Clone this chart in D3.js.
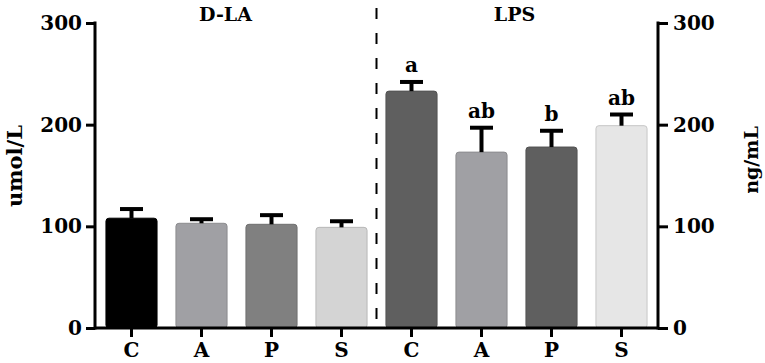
<!DOCTYPE html>
<html>
<head>
<meta charset="utf-8">
<script src="https://cdn.jsdelivr.net/npm/d3@7"></script>
<style>
  body { margin: 0; background: #fff; }
  text { font-family: "DejaVu Serif", serif; font-weight: bold; fill: #000; }
</style>
</head>
<body>
<svg id="chart" width="765" height="363"></svg>
<script>
// data
var groups = ["D-LA", "LPS"];
var cats = ["C", "A", "P", "S"];
var dlaMean = [108, 103, 102, 99];
var dlaErr = [9, 4, 9, 6];
var lpsMean = [233, 173, 178, 199];
var lpsErr = [9, 24, 16, 11];
var lpsLetters = ["a", "ab", "b", "ab"];
var yTicks = [0, 100, 200, 300];
var dlaColors = ["#000000", "#a0a0a4", "#808080", "#d4d4d4"];
var lpsColors = ["#5f5f5f", "#a0a0a4", "#5f5f5f", "#e6e6e6"];

var svg = d3.select("#chart");
var plotL = 95, plotR = 658, plotT = 23, plotB = 328;

// one row per bar
var rows = [];
cats.forEach(function(c, i) {
  rows.push({key: "d" + i, cat: c, v: dlaMean[i], e: dlaErr[i], col: dlaColors[i], lab: ""});
});
cats.forEach(function(c, i) {
  rows.push({key: "l" + i, cat: c, v: lpsMean[i], e: lpsErr[i], col: lpsColors[i], lab: lpsLetters[i]});
});

var x = d3.scaleBand().domain(rows.map(function(d) { return d.key; }))
  .range([96.5, 656.5]).paddingInner(0.27).paddingOuter(0.135);
var y = d3.scaleLinear().domain([0, 300]).range([plotB, plotT]);

//bars
svg.selectAll(".bar").data(rows).enter()
  .append("rect")
  .attr("class", "bar")
  .attr("x", function(d) { return x(d.key); })
  .attr("y", function(d) { return y(d.v); })
  .attr("width", x.bandwidth())
  .attr("height", function(d) { return plotB - y(d.v); })
  .attr("rx", 3)
  .attr("fill", function(d) { return d.col; })
  .attr("stroke", function(d) { return d3.color(d.col).darker(0.4); })
  .attr("stroke-width", 1);

//error bars (upper only)
var cx = function(d) { return x(d.key) + x.bandwidth() / 2; };
svg.selectAll(".stem").data(rows).enter()
  .append("line")
  .attr("x1", cx).attr("x2", cx)
  .attr("y1", function(d) { return y(d.v); })
  .attr("y2", function(d) { return y(d.v + d.e); })
  .attr("stroke", "#000").attr("stroke-width", 4);
svg.selectAll(".cap").data(rows).enter()
  .append("line")
  .attr("x1", function(d) { return cx(d) - 11.5; })
  .attr("x2", function(d) { return cx(d) + 11.5; })
  .attr("y1", function(d) { return y(d.v + d.e); })
  .attr("y2", function(d) { return y(d.v + d.e); })
  .attr("stroke", "#000").attr("stroke-width", 4);

//significance letters
svg.selectAll(".sig").data(rows).enter()
  .append("text")
  .attr("x", cx)
  .attr("y", function(d) { return y(d.v + d.e) - 10; })
  .attr("text-anchor", "middle")
  .attr("font-size", 20)
  .text(function(d) { return d.lab; });

//axes
var yl = svg.append("g").attr("transform", "translate(" + plotL + ",0)")
  .call(d3.axisLeft(y).tickValues(yTicks).tickSize(9).tickPadding(4));
var yr = svg.append("g").attr("transform", "translate(" + plotR + ",0)")
  .call(d3.axisRight(y).tickValues(yTicks).tickSize(10).tickPadding(5));
var xa = svg.append("g").attr("transform", "translate(0," + plotB + ")")
  .call(d3.axisBottom(x).tickSize(9).tickPadding(6)
    .tickFormat(function(k) { return rows.find(function(r) { return r.key == k; }).cat; }));

[yl, yr, xa].forEach(function(g) {
  g.select(".domain").remove();
  g.selectAll(".tick line").attr("stroke-width", 3);
  g.selectAll("text").attr("font-family", "DejaVu Serif").attr("font-weight", "bold");
});
yl.selectAll("text").attr("font-size", 20);
yr.selectAll("text").attr("font-size", 20);
xa.selectAll("text").attr("font-size", 20);

svg.append("line").attr("x1", plotL).attr("x2", plotL).attr("y1", plotT - 1.5).attr("y2", plotB + 1.5)
  .attr("stroke", "#000").attr("stroke-width", 3);
svg.append("line").attr("x1", plotR).attr("x2", plotR).attr("y1", plotT - 1.5).attr("y2", plotB + 1.5)
  .attr("stroke", "#000").attr("stroke-width", 3);
svg.append("line").attr("x1", plotL).attr("x2", plotR).attr("y1", plotB).attr("y2", plotB)
  .attr("stroke", "#000").attr("stroke-width", 3);

//dashed divider
var divX = x("l0") - x.step() * x.paddingInner() / 2;
svg.append("line")
  .attr("x1", divX).attr("x2", divX).attr("y1", 8).attr("y2", plotB)
  .attr("stroke", "#000").attr("stroke-width", 2).attr("stroke-dasharray", "11,14");

//group titles
svg.append("text").attr("x", (x("d0") + x("d3") + x.bandwidth()) / 2 - 11).attr("y", 21)
  .attr("text-anchor", "middle").attr("font-size", 19).text(groups[0]);
svg.append("text").attr("x", (x("l0") + x("l3") + x.bandwidth()) / 2 - 2).attr("y", 21)
  .attr("text-anchor", "middle").attr("font-size", 19).text(groups[1]);

//axis titles
svg.append("text").attr("transform", "translate(22,166) rotate(-90)")
  .attr("text-anchor", "middle").attr("font-size", 21).text("umol/L");
svg.append("text").attr("transform", "translate(758,160) rotate(-90)")
  .attr("text-anchor", "middle").attr("font-size", 19).text("ng/mL");
</script>
</body>
</html>
